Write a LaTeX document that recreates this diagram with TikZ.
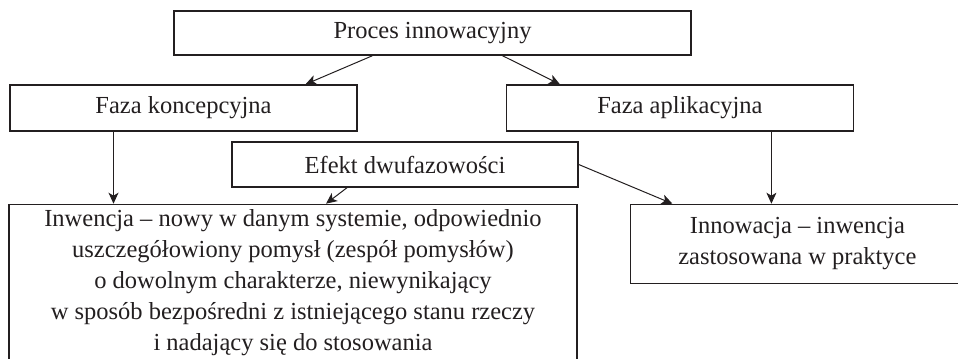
\documentclass[tikz,border=0pt]{standalone}
\usepackage{fontspec}
\setmainfont{Liberation Serif}
\usetikzlibrary{positioning,arrows.meta}
\definecolor{ink}{HTML}{231F20}
\tikzset{
  box/.style={draw=ink, line width=1.4bp, fill=white, align=center, inner sep=4bp, text=ink},
  arr/.style={-{Stealth[length=11bp,width=10bp,inset=3bp]}, line width=1bp, color=ink},
}

\begin{document}
\begin{tikzpicture}[x=1bp, y=1bp, font=\fontsize{24.5bp}{31bp}\selectfont]
    \clip (0,0) rectangle (958,358);
    \node[box, minimum width=517bp, minimum height=44bp] (proc) at (432.5,325) {Proces innowacyjny};
    \node[box, minimum width=347bp, minimum height=46bp] (koncep) at (183.5,250) {Faza koncepcyjna};
    \node[box, minimum width=347bp, minimum height=46bp, right=148bp of koncep] (aplik) {Faza aplikacyjna};
    \node[box, minimum width=346bp, minimum height=45bp] (efekt) at (405,193.5) {Efekt dwufazowości};
    \node[box, minimum width=568bp, minimum height=157bp, below=72bp of koncep.south west, anchor=north west, xshift=-1bp] (inw)
      {Inwencja – nowy w danym systemie, odpowiednio\\uszczegółowiony pomysł (zespół pomysłów)\\o dowolnym charakterze, niewynikający\\w sposób bezpośredni z istniejącego stanu rzeczy\\i nadający się do stosowania};
    \node[box, minimum width=334bp, minimum height=79bp, right=52bp of inw.north east, anchor=north west] (innow)
      {Innowacja – inwencja\\zastosowana w praktyce};
    \draw[arr] ([xshift=-60bp]proc.south) -- ([xshift=122bp]koncep.north);
    \draw[arr] ([xshift=70bp]proc.south) -- ([xshift=-120bp]aplik.north);
    \draw[arr] ([xshift=-70bp]koncep.south) coordinate (k1) -- (k1 |- inw.north);
    \draw[arr] ([xshift=91.5bp]aplik.south) coordinate (a1) -- (a1 |- innow.north);
    \draw[arr] ([xshift=-58bp]efekt.south) -- ([xshift=33bp]inw.north);
    \draw[arr] (efekt.east) -- ([xshift=-125bp]innow.north);
  \end{tikzpicture}
\end{document}
